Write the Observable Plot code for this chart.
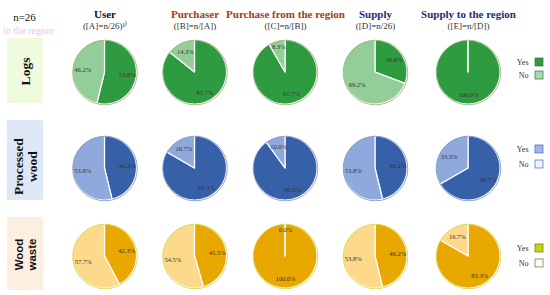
<!DOCTYPE html>
<html><head><meta charset="utf-8">
<script src="https://cdn.jsdelivr.net/npm/d3@7"></script>
<script src="https://cdn.jsdelivr.net/npm/@observablehq/plot@0.6"></script>
<style>body{margin:0;background:#fff}</style>
</head><body><div id="chart"></div>
<script>
// ---- data ----
const sampleLabel = "n=26";
const columns = ["User", "Purchaser", "Purchase from the region", "Supply", "Supply to the region"];
const subtitles = ["([A]=n/26)¹⁾", "([B]=n/[A])", "([C]=n/[B])", "([D]=n/26)", "([E]=n/[D])"];
const rows = ["Logs", "Processed\nwood", "Wood\nwaste"];
const legendLabels = ["Yes", "No"];
const yesLogs = [53.8, 85.7, 91.7, 30.8, 100.0];
const noLogs = [46.2, 14.3, 8.3, 69.2, 0.0];
const yesProcessed = [46.2, 83.3, 90.0, 46.2, 66.7];
const noProcessed = [53.8, 16.7, 10.0, 53.8, 33.3];
const yesWaste = [42.3, 45.5, 100.0, 46.2, 83.3];
const noWaste = [57.7, 54.5, 0.0, 53.8, 16.7];

// ---- layout / style ----
const W = 550, H = 295;
const colX = [104.5, 194.5, 285, 375, 468];
const rowY = [72, 168, 256];
const R = 32;
const rowBox = [[38, 103], [120, 200], [217, 290]];
const rowBoxFill = ["#f0fadc", "#dde8f7", "#fcefe2"];
const outline = ["#6f8f45", "#4a68a8", "#bcc800"];
const sliceColors = {
  "0-Yes": "#2f9b41", "0-No": "#93cd97",
  "1-Yes": "#3661a9", "1-No": "#8fa9dc",
  "2-Yes": "#e9a800", "2-No": "#fdd98b"
};
const legendSwatch = {
  "0-Yes": "#2f9b41", "0-No": "#a9d9ad",
  "1-Yes": "#a3b5ea", "1-No": "#eef2fb",
  "2-Yes": "#c9d700", "2-No": "#fbfbf4"
};
const legendSwatchStroke = ["#3d6b3d", "#4a68a8", "#6a6a40"];
const legendY = [[62, 75], [149, 164], [248, 263]];
const headerColor = ["#111", "#9e3a20", "#9e3a20", "#262d6d", "#262d6d"];
const showZero = [false, false, true];

const series = [[yesLogs, noLogs], [yesProcessed, noProcessed], [yesWaste, noWaste]];

// build wedge polygons
const wedges = [];
const labels = [];
series.forEach(([yes, no], r) => {
  columns.forEach((_, c) => {
    const cx = colX[c], cy = rowY[r];
    let start = 0;
    [["Yes", yes[c]], ["No", no[c]]].forEach(([k, v]) => {
      const f = v / 100;
      const end = start + f;
      const n = Math.max(2, Math.ceil(f * 120));
      const id = `${r}-${c}-${k}`;
      for (let i = 0; i <= n; i++) {
        const t = (start + (end - start) * i / n) * 2 * Math.PI;
        wedges.push({id, r, c, key: `${r}-${k}`, x1: cx, y1: cy, x2: cx + R * Math.sin(t), y2: cy - R * Math.cos(t)});
      }
      if (v > 0 || showZero[r]) {
        const mid = (start + end) / 2 * 2 * Math.PI;
        const rr = f < 0.1 ? 0.82 * R : 0.7 * R;
        labels.push({x: cx + rr * Math.sin(mid), y: cy - rr * Math.cos(mid), text: v.toFixed(1) + "%"});
      }
      start = end;
    });
  });
});
const pieCenters = [];
rows.forEach((_, r) => columns.forEach((_, c) => pieCenters.push({r, c})));

const legendItems = [];
rows.forEach((_, r) => legendLabels.forEach((l, j) => legendItems.push({r, l, y: legendY[r][j], key: `${r}-${l}`})));

const serif = "Liberation Serif, Times New Roman, serif";
const sans = "Liberation Sans, Arial, sans-serif";

const chart = Plot.plot({
  width: W, height: H,
  margin: 0,
  x: {domain: [0, W], range: [0, W], axis: null},
  y: {domain: [0, H], range: [0, H], axis: null},
  color: {domain: Object.keys(sliceColors), range: Object.values(sliceColors)},
  style: {background: "#fff"},
  marks: [
    // faint artifact text
    Plot.text(["in the region"], {x: 28, y: 30, text: d => d, fontFamily: serif, fontSize: 10, fill: "#f3a6f0", opacity: 0.7}),
    // row label boxes
    Plot.rect(rows, {x1: 7, x2: 43, y1: (d, i) => rowBox[i][0], y2: (d, i) => rowBox[i][1], fill: (d, i) => rowBoxFill[i]}),
    Plot.text(rows.slice(0, 2), {x: 25, y: (d, i) => rowY[i] - (i === 0 ? 1 : 2), text: d => d, rotate: -90, fontFamily: serif, fontWeight: "bold", fontSize: 13.5, lineHeight: 1.05, fill: "#111"}),
    Plot.text(rows.slice(2), {x: 25, y: rowY[2] - 2, text: d => d, rotate: -90, fontFamily: sans, fontWeight: "bold", fontSize: 11.5, lineHeight: 1.1, fill: "#111"}),
    // n
    Plot.text([sampleLabel], {x: 24, y: 17, text: d => d, fontFamily: serif, fontSize: 11, fill: "#111"}),
    // headers
    Plot.text(columns, {x: (d, i) => colX[i], y: 14, text: d => d, fontFamily: serif, fontWeight: "bold", fontSize: 11, fill: (d, i) => headerColor[i]}),
    Plot.text(subtitles, {x: (d, i) => colX[i], y: 26, text: d => d, fontFamily: serif, fontSize: 9, fill: "#333"}),
    // pies
    Plot.area(wedges, {x1: "x1", y1: "y1", x2: "x2", y2: "y2", z: "id", fill: "key", stroke: "#fff", strokeWidth: 1.2, curve: "linear"}),
    Plot.dot(pieCenters, {x: d => colX[d.c], y: d => rowY[d.r], r: R + 0.3, fill: "none", stroke: d => outline[d.r], strokeWidth: 0.6}),
    Plot.text(labels, {x: "x", y: "y", text: "text", fontFamily: serif, fontSize: 6.5, fill: "#333"}),
    // legends
    Plot.text(legendItems, {x: 528, y: "y", text: "l", textAnchor: "end", fontFamily: serif, fontSize: 8, fill: "#333"}),
    Plot.rect(legendItems, {x1: 535, x2: 543, y1: d => d.y - 4, y2: d => d.y + 4, fill: d => legendSwatch[d.key], stroke: d => legendSwatchStroke[d.r], strokeWidth: 0.7})
  ]
});
document.getElementById("chart").append(chart);
</script>
</body></html>
